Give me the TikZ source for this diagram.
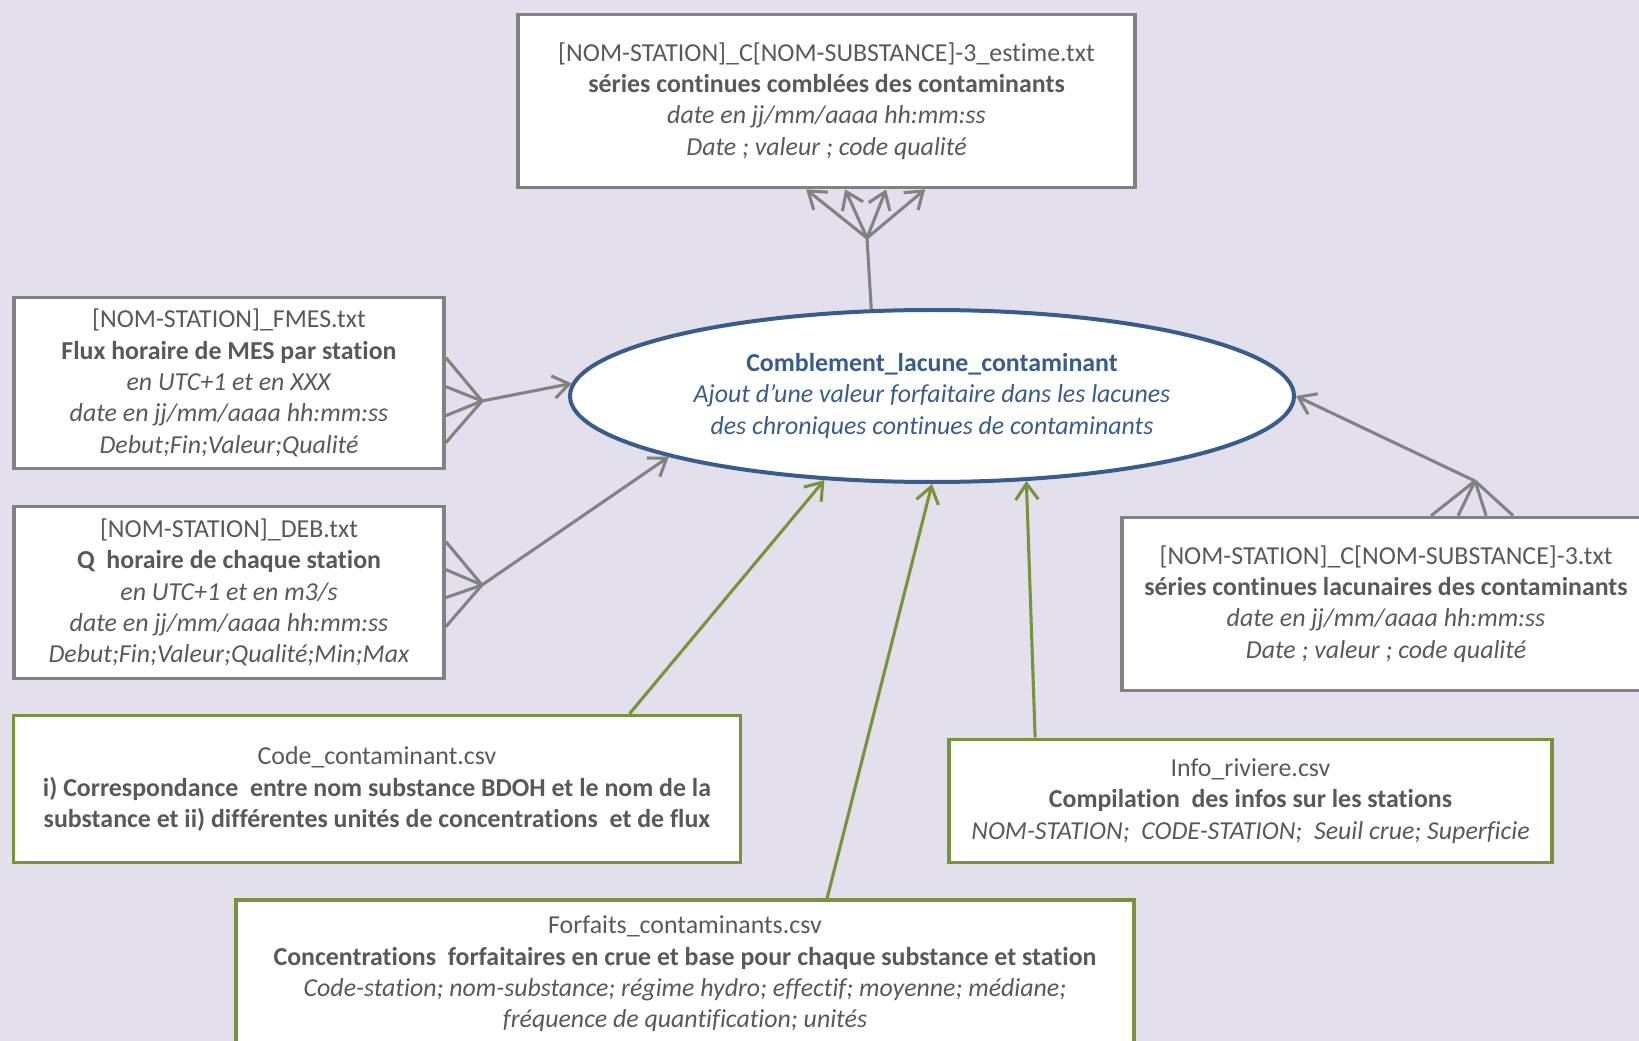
\documentclass[tikz,border=0pt]{standalone}
\usepackage{fontspec}
\setmainfont[RawFeature=-liga]{Carlito}
\usetikzlibrary{arrows.meta}
\usetikzlibrary{calc}
\usetikzlibrary{shapes}
\usetikzlibrary{positioning}

\definecolor{fond}{RGB}{228,223,236}
\definecolor{gristrait}{RGB}{130,130,130}
\definecolor{gristexte}{RGB}{89,89,89}
\definecolor{vert}{RGB}{119,147,60}
\definecolor{bleu}{RGB}{56,93,138}

\tikzset{
  fichier/.style={draw=gristrait, line width=2.8pt, fill=white, text=gristexte,
    align=center, inner sep=0pt, font=\fontsize{19.4}{23.5}\selectfont},
  parametre/.style={fichier, draw=vert},
  traitement/.style={ellipse, draw=bleu, line width=3pt, fill=white, text=bleu,
    align=center, inner sep=0pt, font=\fontsize{19.4}{23.5}\selectfont},
  patte/.style={draw=gristrait, line width=2.3pt},
  lien/.style={patte, -{Straight Barb[length=12pt,width=17pt,line width=2.3pt]}},
  lienvert/.style={lien, draw=vert},
}

\begin{document}
\begin{tikzpicture}[x=0.75pt,y=-0.75pt]
  \useasboundingbox (0,0) rectangle (1639,1041);
  \fill[fond] (0,0) rectangle (1639,1041);

  \node[traitement, minimum width=543pt, minimum height=129pt] (comblement) at (932,396)
    {\textbf{Comblement\_lacune\_contaminant}\\
     \textit{Ajout d’une valeur forfaitaire dans les lacunes}\\
     \textit{des chroniques continues de contaminants}};

  \node[fichier, minimum width=462.75pt, minimum height=129.75pt] (estime) at (826.5,101)
    {[NOM-STATION]\_C[NOM-SUBSTANCE]-3\_estime.txt\\
     \textbf{séries continues comblées des contaminants}\\
     \textit{date en jj/mm/aaaa hh:mm:ss}\\
     \textit{Date ; valeur ; code qualité}};
  \node[fichier, minimum width=322.5pt, minimum height=128.25pt] (fmes) at (229,383)
    {[NOM-STATION]\_FMES.txt\\
     \textbf{Flux horaire de MES par station}\\
     \textit{en UTC+1 et en XXX}\\
     \textit{date en jj/mm/aaaa hh:mm:ss}\\
     \textit{Debut;Fin;Valeur;Qualité}};
  \node[fichier, minimum width=322.5pt, minimum height=129pt] (deb) at (229,592.5)
    {[NOM-STATION]\_DEB.txt\\
     \textbf{Q\ \ horaire de chaque station}\\
     \textit{en UTC+1 et en m3/s}\\
     \textit{date en jj/mm/aaaa hh:mm:ss}\\
     \textit{Debut;Fin;Valeur;Qualité;Min;Max}};
  \node[fichier, minimum width=396pt, minimum height=129.75pt] (lacunaire) at (1386,604)
    {[NOM-STATION]\_C[NOM-SUBSTANCE]-3.txt\\
     \textbf{séries continues lacunaires des contaminants}\\
     \textit{date en jj/mm/aaaa hh:mm:ss}\\
     \textit{Date ; valeur ; code qualité}};

  \node[parametre, minimum width=545.25pt, minimum height=110.25pt] (code) at (377,789)
    {Code\_contaminant.csv\\
     \textbf{i) Correspondance\ \ entre nom substance BDOH et le nom de la}\\
     \textbf{substance et ii) différentes unités de concentrations\ \ et de flux}};
  \node[parametre, minimum width=452.25pt, minimum height=92.25pt] (info) at (1250.5,801)
    {Info\_riviere.csv\\
     \textbf{Compilation\ \ des infos sur les stations}\\
     \textit{NOM-STATION;\ \ CODE-STATION;\ \ Seuil crue; Superficie}};
  \node[parametre, minimum width=673.5pt, minimum height=111pt] (forfaits) at (685,974)
    {Forfaits\_contaminants.csv\\
     \textbf{Concentrations\ \ forfaitaires en crue et base pour chaque substance et station}\\
     \textit{Code-station; nom-substance; régime hydro; effectif; moyenne; médiane;}\\
     \textit{fréquence de quantification; unités}};

  \coordinate (jestime) at (867,238);
  \coordinate (jfmes) at (482,401);
  \coordinate (jdeb) at (482,585);
  \coordinate (jlacunaire) at (1475,481);

  \draw[patte] (comblement.125) -- (jestime);
  \foreach \dx in {290,329,370,409}
    \draw[lien] (jestime) -- ($(estime.south west)+(\dx,0)$);
  \foreach \dy in {62,91,120,147}
    \draw[patte] ($(fmes.north east)+(0,\dy)$) -- (jfmes);
  \draw[lien] (jfmes) -- (comblement.178);
  \foreach \dy in {37,65,93,122}
    \draw[patte] ($(deb.north east)+(0,\dy)$) -- (jdeb);
  \draw[lien] (jdeb) -- (comblement.193);
  \foreach \dx in {311,338,366,393}
    \draw[patte] ($(lacunaire.north west)+(\dx,0)$) -- (jlacunaire);
  \draw[lien] (jlacunaire) -- (comblement.east);

  \draw[lienvert] ($(code.north west)+(618,0)$) -- (comblement.218);
  \draw[lienvert] ($(forfaits.north west)+(593,0)$) -- (comblement.270);
  \draw[lienvert] ($(info.north west)+(88,0)$) -- (comblement.318);
\end{tikzpicture}
\end{document}
